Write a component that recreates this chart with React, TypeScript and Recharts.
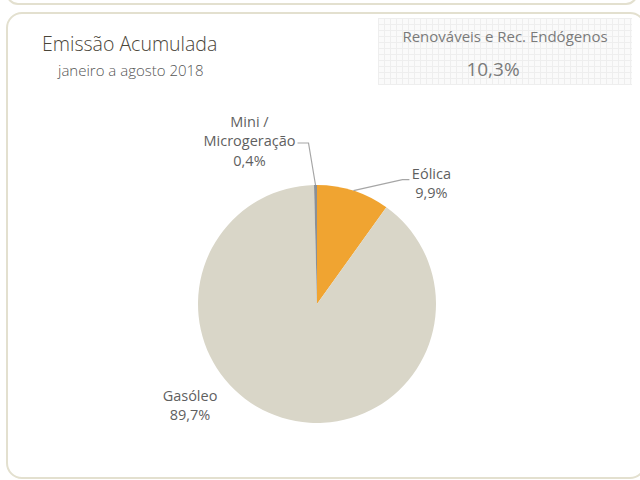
import React from 'react';
import { PieChart, Pie, Cell } from 'recharts';

const categories = ['Eólica', 'Gasóleo', 'Mini / Microgeração'];
const values = [9.9, 89.7, 0.4];
const colors = ['#f0a431', '#d9d6c8', '#8b9096'];
const labelLines: string[][] = [['Eólica'], ['Gasóleo'], ['Mini /', 'Microgeração']];
const titleText = 'Emissão Acumulada';
const subtitleText = 'janeiro a agosto 2018';
const kpiLabel = 'Renováveis e Rec. Endógenos';
const kpiValue = '10,3%';

const data = categories.map((c, i) => ({ name: c, value: values[i] }));

const fmt = (v: number) => v.toFixed(1).replace('.', ',') + '%';

const FONT = '"Open Sans", "Noto Sans", sans-serif';

// label placement offsets relative to slice edge point (style only)
const labelCfg: Record<number, { dx: number; dy: number; line?: boolean; elbow?: [number, number]; tail?: number }> = {
  0: { dx: 78, dy: -8, line: true, elbow: [49, -11], tail: 7 },
  1: { dx: -92, dy: -13 },
  2: { dx: -66, dy: -45, line: true, elbow: [-7, -42], tail: -11 },
};

const RADIAN = Math.PI / 180;

const renderLabel = (props: any) => {
  const { cx, cy, midAngle, outerRadius, index, value } = props;
  const ex = cx + outerRadius * Math.cos(-midAngle * RADIAN);
  const ey = cy + outerRadius * Math.sin(-midAngle * RADIAN);
  const cfg = labelCfg[index];
  const lines = [...labelLines[index], fmt(value)];
  const tx = ex + cfg.dx;
  const lh = 19.5;
  const ty = ey + cfg.dy - ((lines.length - 1) * lh) / 2;
  let path = null;
  if (cfg.line && cfg.elbow) {
    const bx = ex + cfg.elbow[0];
    const by = ey + cfg.elbow[1];
    const tx2 = bx + (cfg.tail || 0);
    path = <path d={`M${ex},${ey}L${bx},${by}L${tx2},${by}`} stroke="#a6a6a6" strokeWidth={1.2} fill="none" />;
  }
  return (
    <g key={`lbl-${index}`}>
      {path}
      <text x={tx} y={ty} textAnchor="middle" fill="#5f5f5f" fontSize={14.5} fontFamily={FONT} dominantBaseline="central">
        {lines.map((l, i) => (
          <tspan key={i} x={tx} dy={i === 0 ? 0 : lh}>{l}</tspan>
        ))}
      </text>
    </g>
  );
};

export default function App() {
  return (
    <div style={{ position: 'fixed', left: 0, top: 0, width: 640, height: 480, background: '#fff', overflow: 'hidden', fontFamily: FONT }}>
      <div style={{ position: 'absolute', left: 6, top: -40, width: 628, height: 41, border: '2px solid #e3e0cf', borderRadius: 12 }} />
      <div style={{ position: 'absolute', left: 6, top: 12, width: 636, height: 463, border: '2px solid #e3e0cf', borderRadius: 16 }} />
      <div style={{
        position: 'absolute', left: 378, top: 18, width: 254, height: 67,
        backgroundColor: '#fafafa',
        backgroundImage: 'linear-gradient(#eeeeee 1px, transparent 1px), linear-gradient(90deg, #eeeeee 1px, transparent 1px)',
        backgroundSize: '6px 6px',
      }} />
      <div style={{ position: 'absolute', left: 378, top: 26, width: 254, textAlign: 'center', fontSize: 15, color: '#7a7a7a' }}>{kpiLabel}</div>
      <div style={{ position: 'absolute', left: 366, top: 56, width: 254, textAlign: 'center', fontSize: 19, color: '#7a7a7a' }}>{kpiValue}</div>
      <div style={{ position: 'absolute', left: 42, top: 30, fontSize: 19.5, color: '#4a4538', fontWeight: 300 }}>{titleText}</div>
      <div style={{ position: 'absolute', left: 58, top: 60, fontSize: 15, color: '#555', fontWeight: 300 }}>{subtitleText}</div>
      <div style={{ position: 'absolute', left: 0, top: 0 }}>
        <PieChart width={640} height={480} margin={{ top: 0, right: 0, bottom: 0, left: 0 }}>
          <Pie
            data={data}
            dataKey="value"
            nameKey="name"
            cx={317}
            cy={304}
            outerRadius={119}
            startAngle={90}
            endAngle={-270}
            stroke="none"
            isAnimationActive={false}
            label={renderLabel}
            labelLine={false}
          >
            {data.map((d, i) => (
              <Cell key={d.name} fill={colors[i]} />
            ))}
          </Pie>
        </PieChart>
      </div>
    </div>
  );
}
